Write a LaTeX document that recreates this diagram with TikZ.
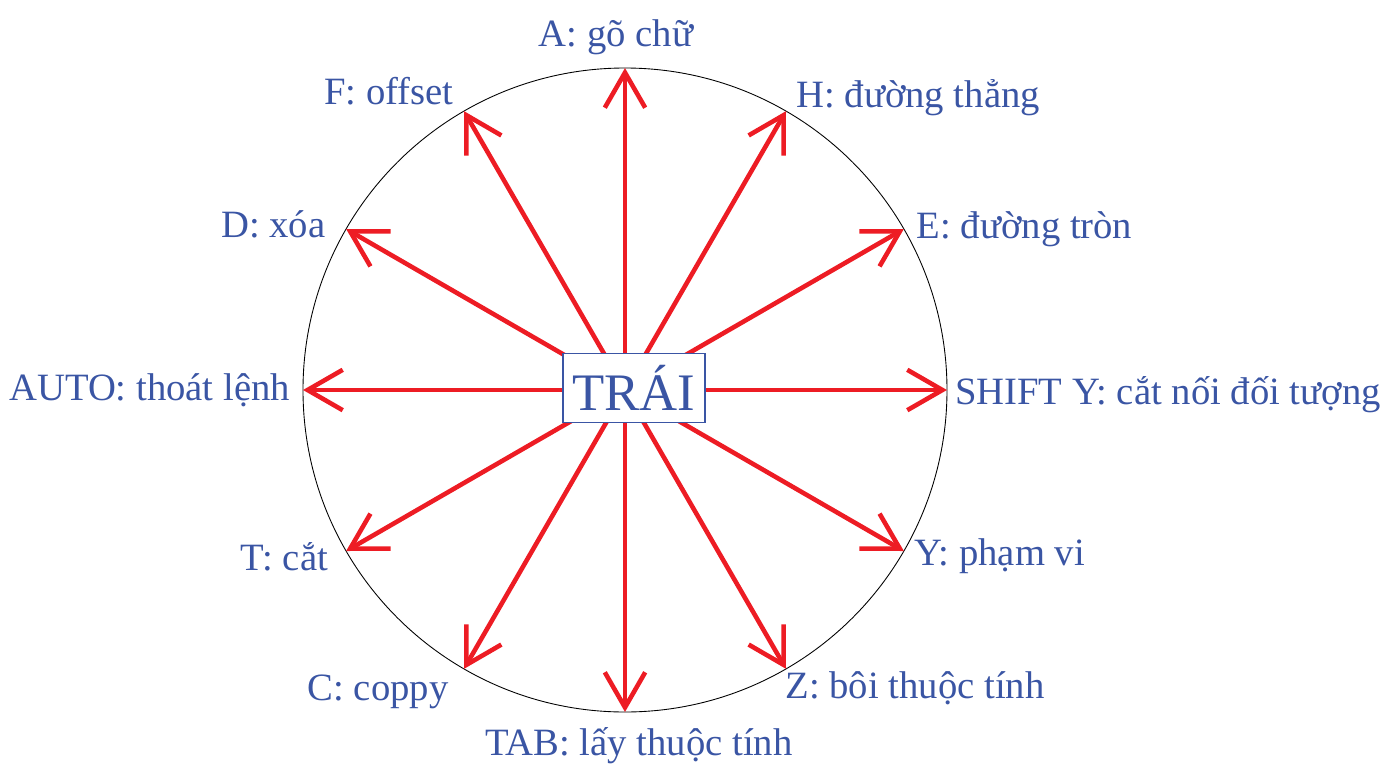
\documentclass[tikz,border=0pt]{standalone}
\usepackage{fontspec}
\setmainfont{Liberation Serif}
\usetikzlibrary{arrows.meta,positioning}
\definecolor{keyRed}{HTML}{ED1C24}
\definecolor{keyBlue}{HTML}{3A55A4}

\begin{document}
\begin{tikzpicture}[
    lbl/.style={text=keyBlue,font=\fontsize{22}{25}\selectfont,inner sep=3pt},
    ray/.style={draw=keyRed,line width=2.6pt,
                -{Straight Barb[length=20pt,width=23pt,line width=2.6pt]}},
    hub/.style={draw=keyBlue,line width=1pt,fill=white,text=keyBlue,
                font=\fontsize{30}{32}\selectfont,inner sep=0pt,
                minimum width=2.84cm,minimum height=1.38cm}]
  \useasboundingbox (-12.5,-7.46) rectangle (15.24,7.8);
  \coordinate (o) at (0,0);
  \draw[line width=0.5pt] (o) circle (6.44);
  % tips on the circle
  \coordinate (tA) at (90:6.44);
  \coordinate (tH) at (60:6.44);
  \coordinate (tE) at (30:6.44);
  \coordinate (tS) at (0:6.44);
  \coordinate (tY) at (-30:6.44);
  \coordinate (tZ) at (-60:6.44);
  \coordinate (tB) at (-90:6.44);
  \coordinate (tC) at (-120:6.44);
  \coordinate (tT) at (-150:6.44);
  \coordinate (tU) at (180:6.44);
  \coordinate (tD) at (150:6.44);
  \coordinate (tF) at (120:6.44);
  \foreach \t in {tA,tH,tE,tS,tY,tZ,tB,tC,tT,tU,tD,tF}
    \draw[ray] (o) -- (\t);
  \node[hub] (trai) at (0.18,0.04) {TRÁI};
  % labels
  \node[lbl,anchor=south,xshift=-0.18cm,yshift=0.15cm] (lA) at (tA) {A: gõ chữ};
  \node[lbl,anchor=south west,xshift=0.1cm,yshift=-0.2cm] (lH) at (tH) {H: đường thẳng};
  \node[lbl,anchor=west,xshift=0.15cm] (lE) at (tE) {E: đường tròn};
  \node[lbl,anchor=west,xshift=0.05cm,yshift=-0.1cm] (lS) at (tS) {SHIFT Y: cắt nối đối tượng};
  \node[lbl,anchor=west,xshift=0.1cm,yshift=-0.1cm] (lY) at (tY) {Y: phạm vi};
  \node[lbl,anchor=north west,xshift=-0.12cm,yshift=0.06cm] (lZ) at (tZ) {Z: bôi thuộc tính};
  \node[lbl,anchor=north,xshift=0.28cm,yshift=-0.2cm] (lB) at (tB) {TAB: lấy thuộc tính};
  \node[lbl,anchor=north east,xshift=-0.2cm] (lC) at (tC) {C: coppy};
  \node[lbl,anchor=east,xshift=-0.25cm,yshift=-0.12cm] (lT) at (tT) {T: cắt};
  \node[lbl,anchor=east,xshift=-0.15cm] (lU) at (tU) {AUTO: thoát lệnh};
  \node[lbl,anchor=east,xshift=-0.3cm,yshift=0.1cm] (lD) at (tD) {D: xóa};
  \node[lbl,anchor=south east,xshift=-0.1cm] (lF) at (tF) {F: offset};
\end{tikzpicture}
\end{document}
